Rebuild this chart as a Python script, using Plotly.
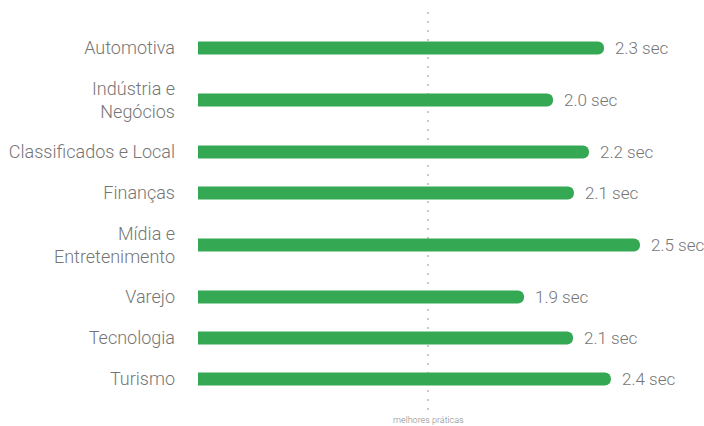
import plotly.graph_objects as go

categories = ["Automotiva", "Indústria e<br>Negócios", "Classificados e Local", "Finanças",
              "Mídia e<br>Entretenimento", "Varejo", "Tecnologia", "Turismo"]
load_time_labels = ["2.3 sec", "2.0 sec", "2.2 sec", "2.1 sec", "2.5 sec", "1.9 sec", "2.1 sec", "2.4 sec"]
bar_lengths = [2.294, 2.006, 2.209, 2.124, 2.497, 1.842, 2.119, 2.333]
best_practice = 1.3
best_practice_label = "melhores práticas"

GREEN = "#34A853"
GRAY = "#757575"
FONT = "Roboto"

# row layout: two-line labels take a taller row
lines = [c.count("<br>") + 1 for c in categories]
row_h = {1: 41, 2: 63}
positions = []
y = 48
for i, n in enumerate(lines):
    if i > 0:
        y += (row_h[lines[i - 1]] + row_h[n]) / 2
    positions.append(y)

fig = go.Figure()
fig.add_trace(go.Bar(
    x=bar_lengths, y=positions, orientation="h", width=13,
    marker=dict(color=GREEN, cornerradius=7, line=dict(width=0)),
    hoverinfo="skip",
))

for xv, yv, lab in zip(bar_lengths, positions, load_time_labels):
    fig.add_annotation(x=xv, y=yv, text=lab, showarrow=False, xanchor="left",
                       xshift=9, font=dict(family=FONT, size=17, color=GRAY, weight=300))

fig.add_shape(type="line", x0=best_practice, x1=best_practice, y0=12, y1=410,
              line=dict(color="#c8c8c8", width=2, dash="2px,7px"), layer="below")
fig.add_annotation(x=best_practice, y=420, text=best_practice_label, showarrow=False,
                   font=dict(family=FONT, size=9, color="#888888", weight=300))

fig.update_layout(
    width=704, height=426,
    margin=dict(l=198, r=0, t=0, b=0),
    plot_bgcolor="white", paper_bgcolor="white",
    showlegend=False,
    xaxis=dict(range=[0, 506 / 177], visible=False),
    yaxis=dict(range=[426, 0], tickvals=positions, ticktext=categories,
               showgrid=False, zeroline=False, showline=False, ticks="",
               ticklabelstandoff=22,
               tickfont=dict(family=FONT, size=18, color=GRAY, weight=300)),
)

fig.write_html("out.html", config={"displayModeBar": False},
               post_script="document.body.style.margin='0';document.body.style.overflow='hidden';")
